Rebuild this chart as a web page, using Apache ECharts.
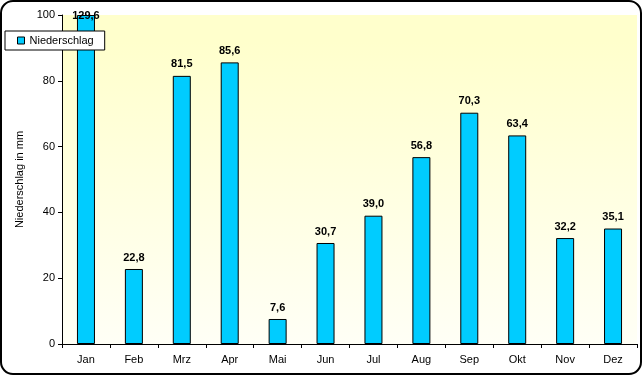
<!DOCTYPE html>
<html>
<head>
<meta charset="utf-8">
<script src="https://cdn.jsdelivr.net/npm/echarts@6/dist/echarts.min.js"></script>
<style>
html,body{margin:0;padding:0;background:#fff;}
#c{width:643px;height:376px;}
</style>
</head>
<body>
<div id="c"></div>
<script>
const categories = ['Jan','Feb','Mrz','Apr','Mai','Jun','Jul','Aug','Sep','Okt','Nov','Dez'];
const niederschlag = [129.6, 22.8, 81.5, 85.6, 7.6, 30.7, 39.0, 56.8, 70.3, 63.4, 32.2, 35.1];
const seriesName = 'Niederschlag';
const yAxisName = 'Niederschlag in mm';
const yMin = 0, yMax = 100, yInterval = 20;

const fmt = v => v.toFixed(1).replace('.', ',');
const font = '"Liberation Sans", Arial, sans-serif';

const data = niederschlag.map(v => {
  const item = { value: Math.min(v, yMax), raw: v };
  if (v > yMax) {
    item.label = { position: 'top', distance: -6 };
  }
  return item;
});

const chart = echarts.init(document.getElementById('c'));
chart.setOption({
  animation: false,
  backgroundColor: '#fff',
  textStyle: { fontFamily: font },
  grid: {
    left: 62, right: 6, top: 15, bottom: 32,
    show: true, borderWidth: 0,
    backgroundColor: {
      type: 'linear', x: 0, y: 0, x2: 0, y2: 1,
      colorStops: [
        { offset: 0, color: '#FFFFCC' },
        { offset: 0.08, color: '#FFFFCC' },
        { offset: 1, color: '#FFFFF6' }
      ]
    }
  },
  legend: {
    left: 5, top: 31,
    data: [seriesName],
    icon: 'rect',
    itemWidth: 7, itemHeight: 7,
    backgroundColor: '#fff',
    borderColor: '#000', borderWidth: 1,
    borderRadius: 0,
    padding: [4, 11, 4, 12],
    textStyle: { fontFamily: font, fontSize: 11, color: '#000' },
    itemStyle: { borderColor: '#000', borderWidth: 1 }
  },
  xAxis: {
    type: 'category',
    data: categories,
    axisLine: { lineStyle: { color: '#000', width: 1 } },
    axisTick: { show: true, length: 4, lineStyle: { color: '#000' } },
    axisLabel: { color: '#000', fontSize: 11, margin: 10, fontFamily: font },
    splitLine: { show: false }
  },
  yAxis: {
    type: 'value',
    min: yMin, max: yMax, interval: yInterval,
    name: yAxisName,
    nameLocation: 'middle',
    nameGap: 32,
    nameRotate: 90,
    nameTextStyle: { color: '#000', fontSize: 11, fontFamily: font },
    axisLine: { show: true, lineStyle: { color: '#000', width: 1 } },
    axisTick: { show: true, length: 4, lineStyle: { color: '#000' } },
    axisLabel: { color: '#000', fontSize: 11, margin: 7, fontFamily: font },
    splitLine: { show: false }
  },
  series: [{
    name: seriesName,
    type: 'bar',
    data: data,
    barWidth: 18,
    clip: true,
    itemStyle: { color: '#00CCFF', borderColor: '#000', borderWidth: 1 },
    label: {
      show: true,
      position: 'top',
      distance: 6,
      color: '#000',
      fontWeight: 'bold',
      fontSize: 11,
      fontFamily: font,
      formatter: p => fmt(p.data.raw)
    }
  }],
  graphic: [{
    type: 'rect',
    shape: { x: 1, y: 1, width: 640, height: 373, r: 12 },
    style: { fill: 'none', stroke: '#000', lineWidth: 2 },
    z: 100,
    silent: true
  }]
});
</script>
</body>
</html>
